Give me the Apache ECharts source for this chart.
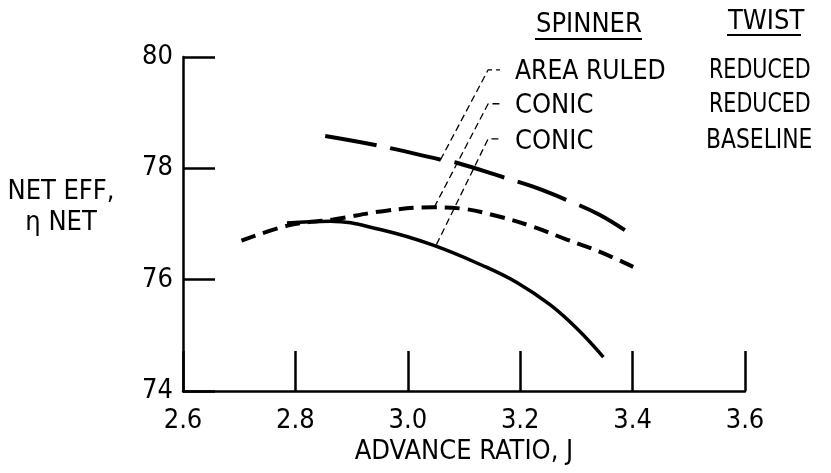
<!DOCTYPE html>
<html>
<head>
<meta charset="utf-8">
<script src="https://cdn.jsdelivr.net/npm/echarts@6/dist/echarts.min.js"></script>
<style>
html,body{margin:0;padding:0;background:#fff;}
#chart{width:831px;height:473px;}
</style>
</head>
<body>
<div id="chart"></div>
<script>
// ---- data ----
const xTickLabels = ['2.6', '2.8', '3.0', '3.2', '3.4', '3.6'];
const yTickLabels = ['74', '76', '78', '80'];
const xAxisTitle = 'ADVANCE RATIO, J';
const yAxisTitle = ['NET EFF,', 'η NET'];

const spinnerNames = ['AREA RULED', 'CONIC', 'CONIC'];
const twistNames = ['REDUCED', 'REDUCED', 'BASELINE'];

// Area ruled spinner, reduced twist
const areaRuledJ   = [2.853, 2.951, 3.057, 3.087, 3.170, 3.223, 3.283, 3.342, 3.404];
const areaRuledEff = [78.58, 78.40, 78.16, 78.10, 77.84, 77.67, 77.43, 77.16, 76.77];

// Conic spinner, reduced twist
const conicReducedJ   = [2.704, 2.790, 2.867, 2.962, 3.045, 3.093, 3.164, 3.223, 3.283, 3.342, 3.401];
const conicReducedEff = [76.70, 76.98, 77.08, 77.24, 77.30, 77.28, 77.13, 76.95, 76.72, 76.50, 76.23];

// Conic spinner, baseline twist
const conicBaselineJ   = [2.785, 2.862, 2.951, 3.045, 3.134, 3.194, 3.253, 3.300, 3.348];
const conicBaselineEff = [77.02, 77.05, 76.90, 76.62, 76.25, 75.95, 75.55, 75.13, 74.61];

// Leader lines (label callouts), in data units
const leaderAreaRuledJ   = [3.058, 3.143, 3.164];
const leaderAreaRuledEff = [78.15, 79.77, 79.77];
const leaderConicRedJ    = [3.047, 3.143, 3.164];
const leaderConicRedEff  = [77.30, 79.16, 79.16];
const leaderConicBaseJ   = [3.051, 3.143, 3.164];
const leaderConicBaseEff = [76.63, 78.53, 78.53];

const zip = (a, b) => a.map((v, i) => [v, b[i]]);

const FONT = '"DejaVu Sans Condensed", "DejaVu Sans", sans-serif';
const FS = 27;

const chart = echarts.init(document.getElementById('chart'), null, {renderer: 'canvas'});

function leader(data) {
  return {
    type: 'line', data: data, symbol: 'none', silent: true, smooth: false,
    lineStyle: {color: '#000', width: 1.3, type: [7, 4]}, z: 1
  };
}

function label(text, x, y, sx, align) {
  return {type: 'text', x: x, y: y, scaleX: sx || 1,
    style: {text: text, fontFamily: FONT, fontSize: FS, fill: '#000', align: align || 'left', verticalAlign: 'middle'}};
}

const option = {
  animation: false,
  backgroundColor: '#fff',
  grid: {left: 183, right: 86, top: 57, bottom: 82, containLabel: false},
  xAxis: {
    type: 'value', min: 2.6, max: 3.6, interval: 0.2,
    name: xAxisTitle, nameLocation: 'middle', nameGap: 56,
    nameTextStyle: {fontFamily: FONT, fontSize: FS, color: '#000', verticalAlign: 'middle'},
    axisLine: {show: true, lineStyle: {color: '#000', width: 2.5}},
    axisTick: {show: true, inside: true, length: 40, lineStyle: {color: '#000', width: 2.5}},
    splitLine: {show: false},
    axisLabel: {
      margin: 16, fontFamily: FONT, fontSize: FS, color: '#000',
      formatter: v => xTickLabels[Math.round((v - 2.6) / 0.2)]
    }
  },
  yAxis: {
    type: 'value', min: 74, max: 80, interval: 2,
    axisLine: {show: true, lineStyle: {color: '#000', width: 2.5}},
    axisTick: {show: true, inside: true, length: 32, lineStyle: {color: '#000', width: 2.5}},
    splitLine: {show: false},
    axisLabel: {
      margin: 10, fontFamily: FONT, fontSize: FS, color: '#000',
      formatter: v => yTickLabels[Math.round((v - 74) / 2)]
    }
  },
  series: [
    {
      name: spinnerNames[0] + ' / ' + twistNames[0],
      type: 'line', data: zip(areaRuledJ, areaRuledEff), smooth: 0.4, symbol: 'none',
      lineStyle: {color: '#000', width: 4, type: [52, 14]}, z: 3
    },
    {
      name: spinnerNames[1] + ' / ' + twistNames[1],
      type: 'line', data: zip(conicReducedJ, conicReducedEff), smooth: 0.4, symbol: 'none',
      lineStyle: {color: '#000', width: 4, type: [15, 8]}, z: 3
    },
    {
      name: spinnerNames[2] + ' / ' + twistNames[2],
      type: 'line', data: zip(conicBaselineJ, conicBaselineEff), smooth: 0.4, symbol: 'none',
      lineStyle: {color: '#000', width: 3.5}, z: 3
    },
    leader(zip(leaderAreaRuledJ, leaderAreaRuledEff)),
    leader(zip(leaderConicRedJ, leaderConicRedEff)),
    leader(zip(leaderConicBaseJ, leaderConicBaseEff))
  ],
  graphic: [
    label(yAxisTitle[0], 61, 192, 1, 'center'),
    label(yAxisTitle[1], 61, 223, 1, 'center'),
    label('SPINNER', 536, 25),
    {type: 'line', shape: {x1: 535, y1: 39, x2: 642, y2: 39}, style: {stroke: '#000', lineWidth: 2}},
    label('TWIST', 728, 22),
    {type: 'line', shape: {x1: 727, y1: 35, x2: 801, y2: 35}, style: {stroke: '#000', lineWidth: 2}},
    label(spinnerNames[0], 515, 72, 0.97),
    label(spinnerNames[1], 515, 106),
    label(spinnerNames[2], 515, 142),
    label(twistNames[0], 709, 71, 0.85),
    label(twistNames[1], 709, 105, 0.85),
    label(twistNames[2], 706, 141, 0.9)
  ]
};
chart.setOption(option);
</script>
</body>
</html>
